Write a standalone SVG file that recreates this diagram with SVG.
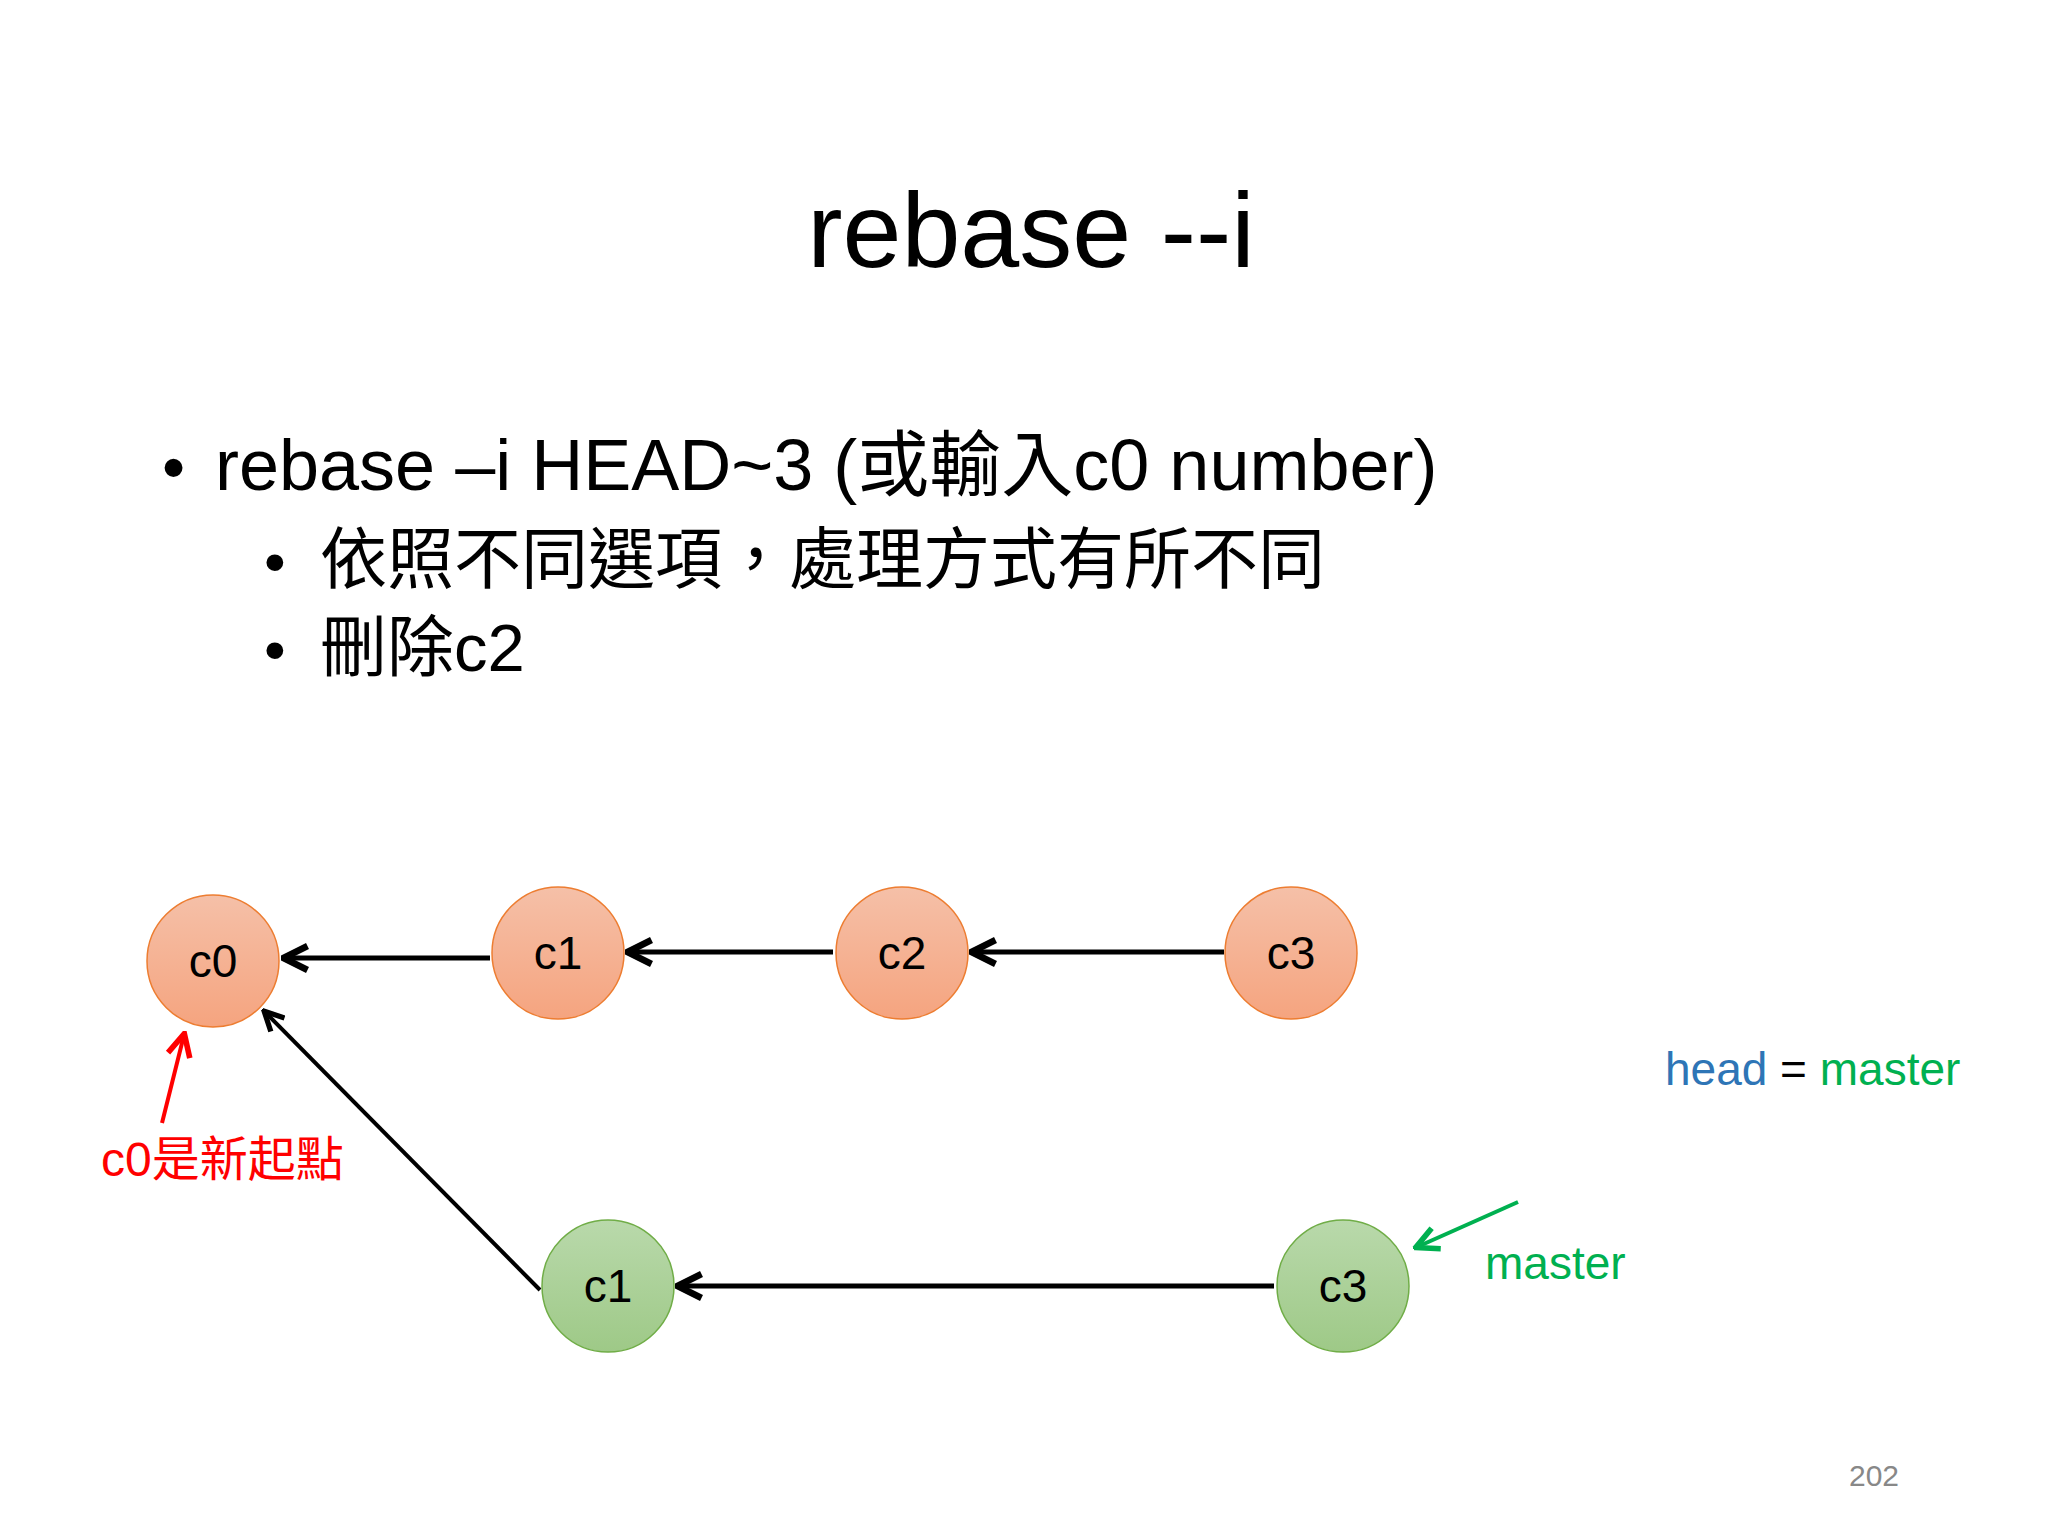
<svg xmlns="http://www.w3.org/2000/svg" width="2048" height="1536" viewBox="0 0 2048 1536">
<style>
.t{font-family:"Liberation Sans","Noto Sans CJK TC",sans-serif}
.o{fill:url(#go);stroke:#ed7d31;stroke-width:1.5}
.g{fill:url(#gg);stroke:#70ad47;stroke-width:1.5}
.nl{font-family:"Liberation Sans",sans-serif;font-size:46px;text-anchor:middle;fill:#000}
.c{stroke:#000;stroke-width:5;fill:none;marker-end:url(#ah)}
</style>
<defs>
<linearGradient id="go" x1="0" y1="0" x2="0" y2="1"><stop offset="0" stop-color="#f5c0a8"/><stop offset="1" stop-color="#f5a47f"/></linearGradient>
<linearGradient id="gg" x1="0" y1="0" x2="0" y2="1"><stop offset="0" stop-color="#b9d9ab"/><stop offset="1" stop-color="#9ec987"/></linearGradient>
<marker id="ah" viewBox="0 0 10 10" refX="8.5" refY="5" markerWidth="6" markerHeight="6" orient="auto"><path d="M1,1 L9,5 L1,9" fill="none" stroke="#000" stroke-width="2.2"/></marker>
<marker id="ar" viewBox="0 0 10 10" refX="8.5" refY="5" markerWidth="7" markerHeight="7" orient="auto"><path d="M1,1 L9,5 L1,9" fill="none" stroke="#f00" stroke-width="2"/></marker>
<marker id="ag" viewBox="0 0 10 10" refX="8.5" refY="5" markerWidth="7" markerHeight="7" orient="auto"><path d="M1,1 L9,5 L1,9" fill="none" stroke="#00b050" stroke-width="2"/></marker>
</defs>
<rect width="2048" height="1536" fill="#fff"/>
<text class="t" x="1031" y="267" font-size="106" text-anchor="middle">rebase --i</text>
<g class="t" fill="#000">
<text x="162" y="490" font-size="66">•</text>
<text x="215" y="490" font-size="72">rebase –i HEAD~3 (或輸入c0 number)</text>
<text x="264" y="583" font-size="62">•</text>
<text x="320" y="583" font-size="67">依照不同選項，處理方式有所不同</text>
<text x="264" y="671" font-size="62">•</text>
<text x="320" y="671" font-size="67">刪除c2</text>
</g>
<g id="connectors">
<line class="c" x1="490" y1="958" x2="285" y2="958"/>
<line class="c" x1="833" y1="952" x2="629" y2="952"/>
<line class="c" x1="1224" y1="952" x2="973" y2="952"/>
<line class="c" x1="1274" y1="1286" x2="679" y2="1286"/>
<line x1="540" y1="1290" x2="265" y2="1012" stroke="#000" stroke-width="4" marker-end="url(#ah)"/>
<line x1="162" y1="1123" x2="184" y2="1035" stroke="#f00" stroke-width="4" marker-end="url(#ar)"/>
<line x1="1518" y1="1202" x2="1417" y2="1247" stroke="#00b050" stroke-width="4" marker-end="url(#ag)"/>
</g>
<g id="c0"><circle class="o" cx="213" cy="961" r="66"/><text class="nl" x="213" y="977">c0</text></g>
<g id="c1"><circle class="o" cx="558" cy="953" r="66"/><text class="nl" x="558" y="969">c1</text></g>
<g id="c2"><circle class="o" cx="902" cy="953" r="66"/><text class="nl" x="902" y="969">c2</text></g>
<g id="c3"><circle class="o" cx="1291" cy="953" r="66"/><text class="nl" x="1291" y="969">c3</text></g>
<g id="c1n"><circle class="g" cx="608" cy="1286" r="66"/><text class="nl" x="608" y="1302">c1</text></g>
<g id="c3n"><circle class="g" cx="1343" cy="1286" r="66"/><text class="nl" x="1343" y="1302">c3</text></g>
<text class="t" x="101" y="1176" font-size="48" fill="#f00">c0是新起點</text>
<text class="t" x="1485" y="1279" font-size="46" fill="#00b050">master</text>
<text class="t" x="1665" y="1085" font-size="46"><tspan fill="#2e75b6">head</tspan><tspan fill="#000"> = </tspan><tspan fill="#00b050">master</tspan></text>
<text class="t" x="1849" y="1486" font-size="30" fill="#888">202</text>
</svg>
